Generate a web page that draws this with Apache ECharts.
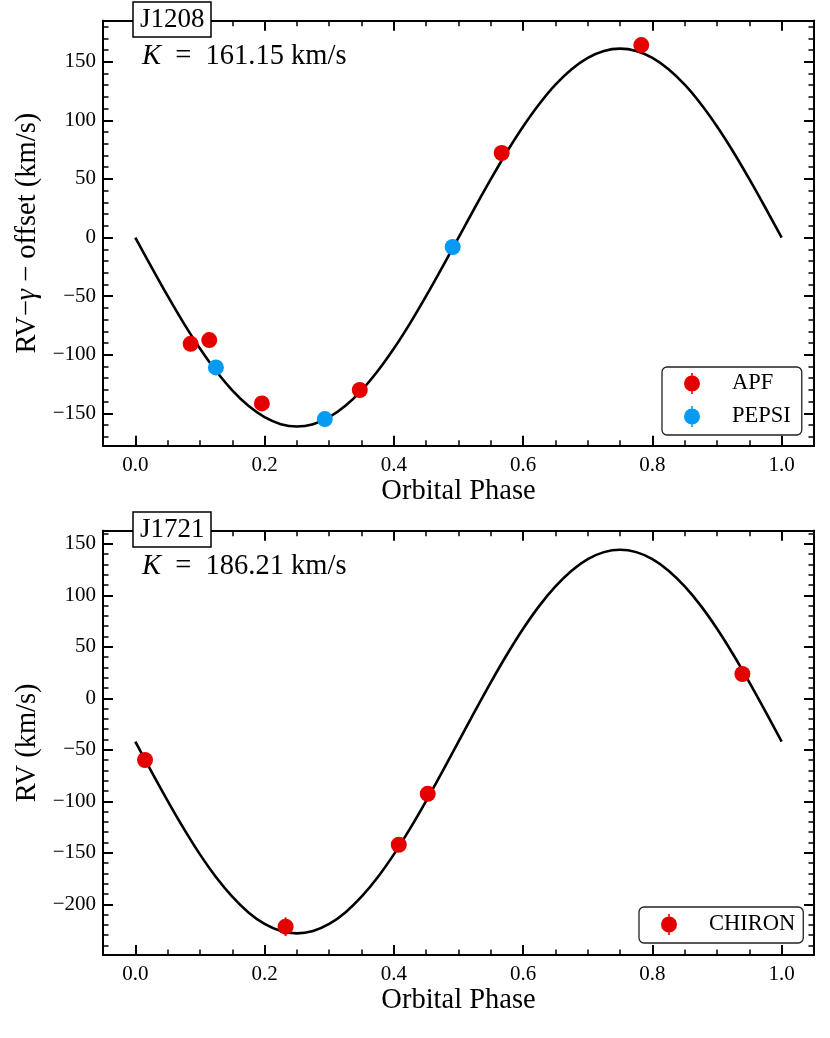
<!DOCTYPE html>
<html>
<head>
<meta charset="utf-8">
<script src="https://cdn.jsdelivr.net/npm/echarts@6/dist/echarts.min.js"></script>
<style>
  html, body { margin: 0; padding: 0; background: #fff; }
  #chart { width: 830px; height: 1038px; }
</style>
</head>
<body>
<div id="chart"></div>
<script type="text/javascript">

// phase samples of the fitted curves
var phaseGrid = [0, 0.025, 0.05, 0.075, 0.1, 0.125, 0.15, 0.175, 0.2, 0.225, 0.25,
    0.275, 0.3, 0.325, 0.35, 0.375, 0.4, 0.425, 0.45, 0.475, 0.5,
    0.525, 0.55, 0.575, 0.6, 0.625, 0.65, 0.675, 0.7, 0.725, 0.75,
    0.775, 0.8, 0.825, 0.85, 0.875, 0.9, 0.925, 0.95, 0.975, 1.0];

// J1208 fitted curve (K = 161.15 km/s)
var modelJ1208 = [0, -25.2, -49.8, -73.2, -94.7, -113.9, -130.4, -143.6, -153.3, -159.2, -161.2,
    -159.2, -153.3, -143.6, -130.4, -113.9, -94.7, -73.2, -49.8, -25.2, 0,
    25.2, 49.8, 73.2, 94.7, 113.9, 130.4, 143.6, 153.3, 159.2, 161.2,
    159.2, 153.3, 143.6, 130.4, 113.9, 94.7, 73.2, 49.8, 25.2, 0];

// J1721 fitted curve (K = 186.21 km/s)
var modelJ1721 = [-42, -71.1, -99.5, -126.5, -151.5, -173.7, -192.6, -207.9, -219.1, -225.9, -228.2,
    -225.9, -219.1, -207.9, -192.6, -173.7, -151.5, -126.5, -99.5, -71.1, -42,
    -12.9, 15.5, 42.5, 67.5, 89.7, 108.6, 123.9, 135.1, 141.9, 144.2,
    141.9, 135.1, 123.9, 108.6, 89.7, 67.5, 42.5, 15.5, -12.9, -42];

// measurements
var apfPhase = [0.0856, 0.1144, 0.1958, 0.3473, 0.5668, 0.7828];
var apfRV    = [-90.7, -87.5, -141.5, -130.1, 72.1, 164.2];
var apfErr   = [4, 4, 4, 4, 4, 4];

var pepsiPhase = [0.1247, 0.2932, 0.4910];
var pepsiRV    = [-110.8, -154.9, -8.1];
var pepsiErr   = [3, 3, 3];

var chironPhase = [0.0150, 0.2325, 0.4076, 0.4524, 0.9392];
var chironRV    = [-59.9, -221.7, -142.2, -92.7, 23.6];
var chironErr   = [6, 9, 6, 6, 6];

// ticks
var xTicks = [0, 0.2, 0.4, 0.6, 0.8, 1.0];
var yTicksTop = [-150, -100, -50, 0, 50, 100, 150];
var yTicksBottom = [-200, -150, -100, -50, 0, 50, 100, 150];

var RED = '#e50000';
var BLUE = '#069af3';
var FONT = 'Liberation Serif';
var ICON = 'path://M7.2,0h1.6v2.5h-1.6z M7.2,18.5h1.6v2.5h-1.6z M16,10.5a8,8 0 1,1 -16,0a8,8 0 1,1 16,0z';

function minorTicks(lo, hi, step) {
    var out = [];
    for (var v = Math.ceil(lo / step) * step; v <= hi + 1e-9; v += step) {
        out.push(Math.round(v * 1000) / 1000);
    }
    return out;
}

function pairs(xs, ys) {
    return xs.map(function (x, i) { return [x, ys[i]]; });
}
function errPairs(xs, ys, es) {
    return xs.map(function (x, i) { return [x, ys[i] - es[i], ys[i] + es[i]]; });
}

function fmtY(v) {
    return v < 0 ? '\u2212' + Math.abs(v) : String(v);
}

// four axes per dimension: labelled major, minor, mirrored major, mirrored minor
function makeAxes(dim, grid, min, max, major, minor, name, nameGap) {
    var pos = dim === 'x' ? ['bottom', 'top'] : ['left', 'right'];
    var base = {
        type: 'value', gridIndex: grid, min: min, max: max,
        splitLine: { show: false },
        axisLine: { show: true, onZero: false, lineStyle: { color: '#000', width: 2 } }
    };
    var list = [];
    [0, 1].forEach(function (side) {
        var a = Object.assign({}, base, {
            position: pos[side],
            axisTick: { show: true, inside: true, length: 10, customValues: major,
                lineStyle: { color: '#000', width: 2 } },
            axisLabel: { show: side === 0, customValues: major,
                formatter: dim === 'x' ? function (v) { return v.toFixed(1); } : fmtY,
                color: '#000', fontFamily: FONT, fontSize: 21, margin: dim === 'x' ? 9 : 7 }
        });
        if (side === 0) {
            a.name = name;
            a.nameLocation = 'middle';
            a.nameGap = nameGap;
            a.nameTextStyle = { color: '#000', fontFamily: FONT, fontSize: 28.5,
                rich: { g: { fontFamily: FONT, fontSize: 28.5, fontStyle: 'italic', color: '#000' } } };
        }
        list.push(a);
        list.push(Object.assign({}, base, {
            position: pos[side],
            axisTick: { show: true, inside: true, length: 5.5, customValues: minor,
                lineStyle: { color: '#000', width: 1.5 } },
            axisLabel: { show: false }
        }));
    });
    return list;
}

function curve(name, data, xi, yi) {
    return { name: name, type: 'line', xAxisIndex: xi, yAxisIndex: yi, data: data,
        showSymbol: false, smooth: 0.3, lineStyle: { color: '#000', width: 2.6 },
        itemStyle: { color: '#000' }, z: 2, silent: true };
}
function points(name, data, color, xi, yi) {
    return { name: name, type: 'scatter', xAxisIndex: xi, yAxisIndex: yi, data: data,
        symbol: 'circle', symbolSize: 16, itemStyle: { color: color, opacity: 1 }, z: 5 };
}
function errors(name, data, color, xi, yi) {
    return { name: name, type: 'custom', xAxisIndex: xi, yAxisIndex: yi, data: data,
        encode: { x: 0, y: [1, 2] }, itemStyle: { color: color }, z: 4,
        renderItem: function (params, api) {
            var lo = api.coord([api.value(0), api.value(1)]);
            var hi = api.coord([api.value(0), api.value(2)]);
            return { type: 'line', shape: { x1: lo[0], y1: lo[1], x2: hi[0], y2: hi[1] },
                style: { stroke: api.visual('color'), lineWidth: 2 } };
        } };
}

var topYMin = -177.6, topYMax = 185;
var botYMin = -249.2, botYMax = 162.7;
var xMinorTicks = minorTicks(0, 1.0, 0.05);

var xAxes = []
    .concat(makeAxes('x', 0, -0.05, 1.05, xTicks, xMinorTicks, 'Orbital Phase', 29))
    .concat(makeAxes('x', 1, -0.05, 1.05, xTicks, xMinorTicks, 'Orbital Phase', 29));
var yAxes = []
    .concat(makeAxes('y', 0, topYMin, topYMax, yTicksTop, minorTicks(topYMin, topYMax, 10),
        'RV\u2212{g|\u03b3} \u2212 offset (km/s)', 55))
    .concat(makeAxes('y', 1, botYMin, botYMax, yTicksBottom, minorTicks(botYMin, botYMax, 10),
        'RV (km/s)', 55));

var legendBase = {
    orient: 'vertical', icon: ICON, itemWidth: 16, itemHeight: 21, itemGap: 10,
    borderColor: '#222', borderWidth: 1.3, borderRadius: 5, backgroundColor: '#fff',
    textStyle: { color: '#000', fontFamily: FONT, fontSize: 22.5, padding: [0, 0, 0, 27] },
    selectedMode: false
};

var titleText = { color: '#000', fontFamily: FONT, fontSize: 27, fontWeight: 'normal' };
var kText = Object.assign({}, titleText, {
    fontSize: 28.5,
    rich: { k: { fontFamily: FONT, fontSize: 28.5, fontStyle: 'italic', color: '#000' } }
});

var myChart = echarts.init(document.getElementById('chart'));
var option = {
    animation: false,
    backgroundColor: '#fff',
    title: [
        { text: 'J1208', left: 133, top: 2, padding: [4, 7, 4, 7], borderColor: '#000',
          borderWidth: 1.5, backgroundColor: '#fff', textStyle: titleText },
        { text: '{k|K}\u2002=\u2002161.15 km/s', left: 137, top: 37, textStyle: kText },
        { text: 'J1721', left: 133, top: 512, padding: [4, 7, 4, 7], borderColor: '#000',
          borderWidth: 1.5, backgroundColor: '#fff', textStyle: titleText },
        { text: '{k|K}\u2002=\u2002186.21 km/s', left: 137, top: 547, textStyle: kText }
    ],
    grid: [
        { left: 103, right: 16, top: 20.7, height: 425, outerBoundsMode: 'none' },
        { left: 103, right: 16, top: 530.7, height: 424.3, outerBoundsMode: 'none' }
    ],
    legend: [
        Object.assign({}, legendBase, { left: 662, top: 367, padding: [5, 11, 7, 22],
            data: ['APF', 'PEPSI'] }),
        Object.assign({}, legendBase, { left: 639, top: 907, padding: [6, 8, 7, 22],
            data: ['CHIRON'] })
    ],
    xAxis: xAxes,
    yAxis: yAxes,
    series: [
        curve('model J1208', pairs(phaseGrid, modelJ1208), 0, 0),
        errors('APF err', errPairs(apfPhase, apfRV, apfErr), RED, 0, 0),
        errors('PEPSI err', errPairs(pepsiPhase, pepsiRV, pepsiErr), BLUE, 0, 0),
        points('APF', pairs(apfPhase, apfRV), RED, 0, 0),
        points('PEPSI', pairs(pepsiPhase, pepsiRV), BLUE, 0, 0),
        curve('model J1721', pairs(phaseGrid, modelJ1721), 4, 4),
        errors('CHIRON err', errPairs(chironPhase, chironRV, chironErr), RED, 4, 4),
        points('CHIRON', pairs(chironPhase, chironRV), RED, 4, 4)
    ]
};
myChart.setOption(option);

</script>
</body>
</html>
